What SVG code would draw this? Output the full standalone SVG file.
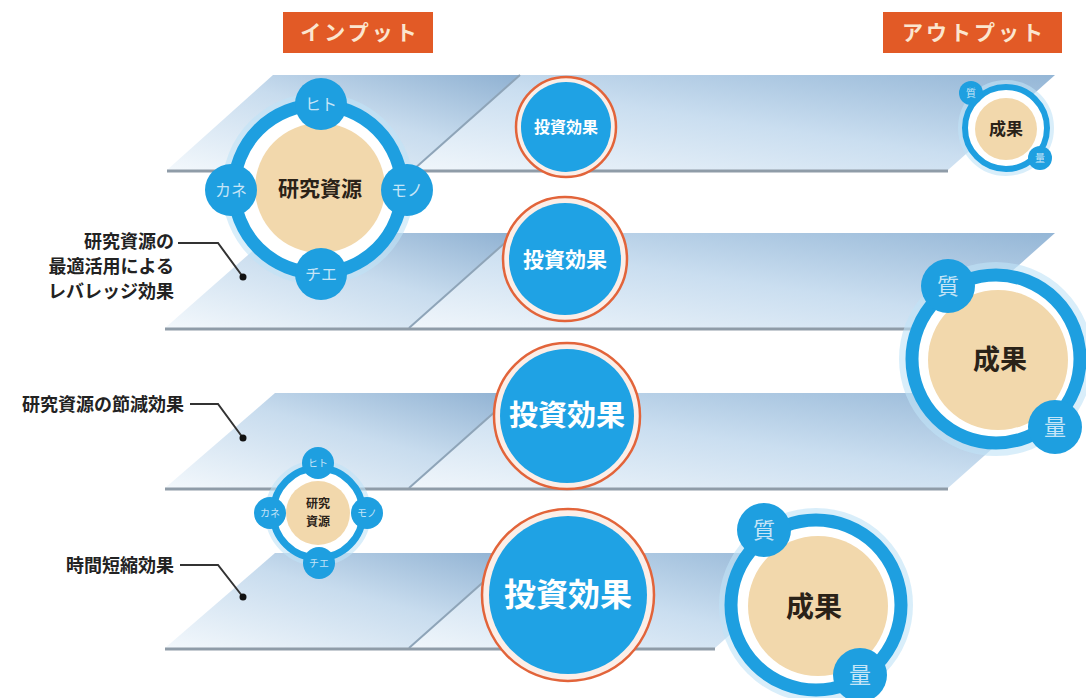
<svg xmlns="http://www.w3.org/2000/svg" width="1086" height="698" viewBox="0 0 1086 698">
<style>
.jp{font-family:'Noto Sans CJK JP','Noto Sans CJK SC',sans-serif;}
.lbl{font-family:'Noto Sans CJK JP',sans-serif;font-size:18px;font-weight:700;fill:#222;}
.sat{fill:#1e9fe0;}
.satt{font-family:'Noto Sans CJK JP',sans-serif;fill:#e4f3fc;fill-opacity:0.85;text-anchor:middle;}
.beige{fill:#f2d8ac;}
.ring{fill:#ffffff;stroke:#1e9fe0;}
.halo{fill:none;stroke:#bfe2f6;stroke-opacity:0.6;}
.inv{fill:#fbeee8;stroke:#e2643a;stroke-width:2.5;}
.invin{fill:#1fa2e4;}
.invt{font-family:'Noto Sans CJK JP',sans-serif;font-weight:700;fill:#ffffff;text-anchor:middle;}
.dark{font-family:'Noto Sans CJK JP',sans-serif;font-weight:700;fill:#2a2218;text-anchor:middle;}
.shadow{stroke:#8f9ca8;stroke-width:3;fill:none;}
.crease{stroke:#8ea4b8;stroke-width:2;fill:none;}
.lead{stroke:#333;stroke-width:2;fill:none;}
.hdr{fill:#e25a26;}
.hdrt{font-family:'Noto Sans CJK JP',sans-serif;font-size:21px;font-weight:700;fill:#fbe6cf;text-anchor:middle;letter-spacing:3px;}
</style>
<defs>
<linearGradient id="gL" x1="0" y1="1" x2="1" y2="0">
<stop offset="0" stop-color="#f3f8fc"/>
<stop offset="0.55" stop-color="#c8dcee"/>
<stop offset="1" stop-color="#8fb1d2"/>
</linearGradient>
<linearGradient id="gR" x1="0" y1="1" x2="1" y2="0">
<stop offset="0" stop-color="#f0f6fb"/>
<stop offset="0.5" stop-color="#cadef0"/>
<stop offset="1" stop-color="#94b6d6"/>
</linearGradient>
</defs>
<rect width="1086" height="698" fill="#ffffff"/>

<g id="bands">
<g id="band1">
<path d="M273,75 L520,75 L413,170 L167,170 Z" fill="url(#gL)"/>
<path d="M520,75 L1055,75 L948,170 L413,170 Z" fill="url(#gR)"/>
<line class="crease" x1="520" y1="75" x2="413" y2="170"/>
<line class="shadow" x1="167" y1="171" x2="948" y2="171"/>
</g>
<g id="band2">
<path d="M273,233 L516,233 L409,328 L165,328 Z" fill="url(#gL)"/>
<path d="M516,233 L1055,233 L948,328 L409,328 Z" fill="url(#gR)"/>
<line class="crease" x1="516" y1="233" x2="409" y2="328"/>
<line class="shadow" x1="165" y1="329" x2="948" y2="329"/>
</g>
<g id="band3">
<path d="M275,393 L516,393 L409,488 L165,488 Z" fill="url(#gL)"/>
<path d="M516,393 L1055,393 L948,488 L409,488 Z" fill="url(#gR)"/>
<line class="crease" x1="516" y1="393" x2="409" y2="488"/>
<line class="shadow" x1="165" y1="489" x2="948" y2="489"/>
</g>
<g id="band4">
<path d="M275,553 L516,553 L409,648 L165,648 Z" fill="url(#gL)"/>
<path d="M516,553 L822,553 L715,648 L409,648 Z" fill="url(#gR)"/>
<line class="crease" x1="516" y1="553" x2="409" y2="648"/>
<line class="shadow" x1="165" y1="649" x2="715" y2="649"/>
</g>
</g>

<g id="header-input">
<rect class="hdr" x="283" y="12" width="150" height="41"/>
<text class="hdrt" x="360" y="40">インプット</text>
</g>
<g id="header-output">
<rect class="hdr" x="883" y="12" width="179" height="41"/>
<text class="hdrt" x="974" y="40">アウトプット</text>
</g>

<g id="connectors">
<polyline class="lead" points="178,243 218,243 243,277"/>
<circle cx="243" cy="277" r="3.5" fill="#111"/>
<polyline class="lead" points="190,404 218,404 243,438"/>
<circle cx="243" cy="438" r="3.5" fill="#111"/>
<polyline class="lead" points="180,565 218,565 243,597"/>
<circle cx="243" cy="597" r="3.5" fill="#111"/>
</g>

<g id="label-leverage">
<text class="lbl" text-anchor="end" font-size="17"><tspan x="174" y="248">研究資源の</tspan><tspan x="174" dy="24.8">最適活用による</tspan><tspan x="174" dy="24.8">レバレッジ効果</tspan></text>
</g>
<g id="label-saving">
<text class="lbl" text-anchor="end" x="184" y="411" font-size="18.5">研究資源の節減効果</text>
</g>
<g id="label-time">
<text class="lbl" text-anchor="end" x="174" y="572">時間短縮効果</text>
</g>

<g id="research-large">
<circle class="halo" cx="318" cy="189" r="85" stroke-width="22"/>
<circle class="ring" cx="318" cy="189" r="84" stroke-width="13"/>
<circle class="beige" cx="320" cy="188" r="65"/>
<text class="dark" x="320" y="196" font-size="21">研究資源</text>
<circle class="sat" cx="321" cy="104" r="26"/>
<text class="satt" x="321" y="110" font-size="16">ヒト</text>
<circle class="sat" cx="231" cy="190" r="26"/>
<text class="satt" x="231" y="196" font-size="16">カネ</text>
<circle class="sat" cx="407" cy="190" r="26"/>
<text class="satt" x="407" y="196" font-size="16">モノ</text>
<circle class="sat" cx="321" cy="274" r="26"/>
<text class="satt" x="321" y="280" font-size="16">チエ</text>
</g>

<g id="research-small">
<circle class="halo" cx="318" cy="513" r="46" stroke-width="14"/>
<circle class="ring" cx="318" cy="513" r="45" stroke-width="7"/>
<circle class="beige" cx="318" cy="513" r="32"/>
<text class="dark" font-size="12"><tspan x="318" y="508">研究</tspan><tspan x="318" dy="18">資源</tspan></text>
<circle class="sat" cx="318" cy="463" r="16"/>
<text class="satt" x="318" y="467" font-size="10">ヒト</text>
<circle class="sat" cx="270" cy="513" r="16"/>
<text class="satt" x="270" y="517" font-size="10">カネ</text>
<circle class="sat" cx="367" cy="513" r="16"/>
<text class="satt" x="367" y="517" font-size="10">モノ</text>
<circle class="sat" cx="319" cy="563" r="16"/>
<text class="satt" x="319" y="567" font-size="10">チエ</text>
</g>

<g id="invest1">
<circle class="inv" cx="566" cy="127" r="50"/>
<circle class="invin" cx="566" cy="127" r="45"/>
<text class="invt" x="566" y="133" font-size="16">投資効果</text>
</g>
<g id="invest2">
<circle class="inv" cx="565" cy="259" r="62"/>
<circle class="invin" cx="565" cy="259" r="56"/>
<text class="invt" x="565" y="267" font-size="21">投資効果</text>
</g>
<g id="invest3">
<circle class="inv" cx="567" cy="416" r="73"/>
<circle class="invin" cx="567" cy="416" r="67"/>
<text class="invt" x="567" y="426" font-size="29">投資効果</text>
</g>
<g id="invest4">
<circle class="inv" cx="568" cy="595" r="86"/>
<circle class="invin" cx="568" cy="595" r="79"/>
<text class="invt" x="568" y="606" font-size="32">投資効果</text>
</g>

<g id="result-small">
<circle class="halo" cx="1006" cy="128" r="42" stroke-width="12"/>
<circle class="ring" cx="1006" cy="128" r="41" stroke-width="6"/>
<circle class="beige" cx="1006" cy="129" r="31"/>
<text class="dark" x="1006" y="135" font-size="17">成果</text>
<circle class="sat" cx="971" cy="93" r="12"/>
<text class="satt" x="971" y="97" font-size="10">質</text>
<circle class="sat" cx="1040" cy="158" r="12"/>
<text class="satt" x="1040" y="162" font-size="10">量</text>
</g>

<g id="result-mid">
<circle class="halo" cx="996" cy="359" r="86" stroke-width="22"/>
<circle class="ring" cx="996" cy="359" r="84" stroke-width="13"/>
<circle class="beige" cx="998" cy="360" r="70"/>
<text class="dark" x="1000" y="369" font-size="27">成果</text>
<circle class="sat" cx="948" cy="286" r="27"/>
<text class="satt" x="948" y="294" font-size="22">質</text>
<circle class="sat" cx="1055" cy="427" r="27"/>
<text class="satt" x="1055" y="435" font-size="22">量</text>
</g>

<g id="result-large">
<circle class="halo" cx="816" cy="605" r="86" stroke-width="22"/>
<circle class="ring" cx="816" cy="605" r="85" stroke-width="13"/>
<circle class="beige" cx="818" cy="606" r="70"/>
<text class="dark" x="814" y="617" font-size="28">成果</text>
<circle class="sat" cx="764" cy="530" r="27"/>
<text class="satt" x="764" y="538" font-size="22">質</text>
<circle class="sat" cx="860" cy="675" r="27"/>
<text class="satt" x="860" y="683" font-size="22">量</text>
</g>
</svg>
